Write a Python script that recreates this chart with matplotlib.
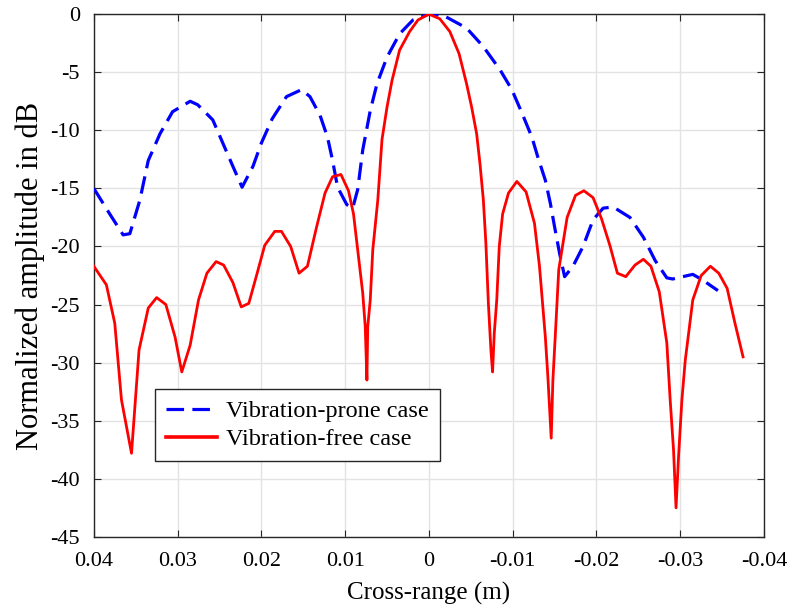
import numpy as np
import matplotlib.pyplot as plt

plt.rcParams['font.family'] = ['Liberation Serif', 'DejaVu Serif']
plt.rcParams['axes.unicode_minus'] = False

# ── Data ─────────────────────────────────────────────────────────────────────
free_x = [0.0400, 0.0385, 0.0375, 0.0367, 0.0355, 0.0346, 0.0335, 0.0325,
          0.0314, 0.0303, 0.0295, 0.0285, 0.0275, 0.0265, 0.0254, 0.0245,
          0.0234, 0.0224, 0.0215, 0.0205, 0.0196, 0.0184, 0.0176, 0.0165,
          0.0155, 0.0145, 0.0134, 0.0124, 0.0115, 0.0105, 0.0096, 0.0090,
          0.0085, 0.0079, 0.0076, 0.0074, 0.0073, 0.0070, 0.0067, 0.0061,
          0.0056, 0.0050, 0.0044, 0.0035, 0.0023, 0.0013, 0.0000,
          -0.0013, -0.0025, -0.0036, -0.0045, -0.0051, -0.0057, -0.0061,
          -0.0065, -0.0068, -0.0071, -0.0074, -0.0076, -0.0078, -0.0081,
          -0.0084, -0.0088, -0.0095, -0.0105, -0.0116, -0.0126, -0.0132,
          -0.0139, -0.0142, -0.0146, -0.0148, -0.0151, -0.0155, -0.0165,
          -0.0175, -0.0185, -0.0196, -0.0206, -0.0216, -0.0225, -0.0235,
          -0.0246, -0.0256, -0.0265, -0.0275, -0.0284, -0.0288, -0.0292,
          -0.0295, -0.0298, -0.0302, -0.0306, -0.0315, -0.0325, -0.0336,
          -0.0346, -0.0356, -0.0365, -0.0375]
free_db = [-21.7, -23.3, -26.6, -33.2, -37.8, -28.9, -25.3, -24.4,
           -25.0, -27.8, -30.8, -28.5, -24.6, -22.3, -21.3, -21.6,
           -23.1, -25.2, -24.9, -22.3, -19.9, -18.7, -18.7, -20.0,
           -22.3, -21.7, -18.3, -15.4, -14.0, -13.8, -15.2, -17.2,
           -20.3, -24.0, -26.9, -31.5, -26.9, -24.6, -20.3, -16.0,
           -10.8, -8.0, -5.7, -3.1, -1.5, -0.5, 0.0,
           -0.4, -1.5, -3.4, -6.0, -8.0, -10.3, -12.9,
           -16.0, -19.7, -24.9, -28.9, -30.8, -27.5, -24.6,
           -20.0, -17.2, -15.4, -14.4, -15.3, -18.0, -21.7,
           -27.8, -31.2, -36.5, -31.5, -27.5, -22.0, -17.5,
           -15.6, -15.2, -15.8, -17.6, -19.9, -22.3, -22.6,
           -21.6, -21.1, -21.7, -23.9, -28.3, -33.2, -37.5,
           -42.5, -38.1, -33.2, -29.8, -24.6, -22.5, -21.7,
           -22.3, -23.6, -26.5, -29.5]

prone_x = [0.0400, 0.0381, 0.0365, 0.0357, 0.0345, 0.0335, 0.0321, 0.0306,
           0.0285, 0.0276, 0.0258, 0.0246, 0.0234, 0.0223, 0.0210, 0.0200,
           0.0187, 0.0170, 0.0152, 0.0142, 0.0130, 0.0121, 0.0115, 0.0109,
           0.0098, 0.0091, 0.0085, 0.0079, 0.0070, 0.0062, 0.0050, 0.0035,
           0.0019, 0.0000, -0.0017, -0.0045, -0.0065, -0.0085, -0.0099,
           -0.0111, -0.0123, -0.0130, -0.0139, -0.0145, -0.0150, -0.0156,
           -0.0162, -0.0172, -0.0184, -0.0196, -0.0208, -0.0220, -0.0240,
           -0.0256, -0.0270, -0.0284, -0.0291, -0.0303, -0.0315, -0.0327,
           -0.0345]
prone_db = [-15.0, -17.2, -19.0, -18.9, -16.0, -12.6, -10.3, -8.4,
            -7.5, -7.8, -9.1, -11.1, -13.1, -14.9, -13.1, -11.1,
            -9.0, -7.1, -6.5, -7.1, -8.7, -10.6, -12.6, -14.9,
            -16.4, -16.7, -15.1, -11.7, -8.3, -6.0, -3.7, -1.7,
            -0.5, 0.0, -0.1, -1.2, -2.8, -4.8, -6.5,
            -8.5, -10.6, -12.3, -14.3, -16.3, -18.3, -20.6,
            -22.6, -21.7, -20.0, -17.7, -16.7, -16.6, -17.5,
            -19.2, -21.2, -22.7, -22.8, -22.6, -22.4, -22.9,
            -23.8]

x_ticks = [0.04, 0.03, 0.02, 0.01, 0.0, -0.01, -0.02, -0.03, -0.04]
x_tick_labels = ['0.04', '0.03', '0.02', '0.01', '0', '-0.01', '-0.02', '-0.03', '-0.04']
y_ticks = [0, -5, -10, -15, -20, -25, -30, -35, -40, -45]

# ── Plot ─────────────────────────────────────────────────────────────────────
fig = plt.figure(figsize=(7.95, 6.15), dpi=100)
ax = fig.add_axes([0.118, 0.127, 0.843, 0.850])

ax.plot(prone_x, prone_db, color='#0000ff', lw=2.3, ls=(0, (5.5, 2.6)),
        label='Vibration-prone case', zorder=3)
ax.plot(free_x, free_db, color='#ff0000', lw=2.0,
        label='Vibration-free case', zorder=4)

ax.set_xlim(0.04, -0.04)
ax.set_ylim(-45, 0)
ax.set_xticks(x_ticks)
ax.set_xticklabels(x_tick_labels)
ax.set_yticks(y_ticks)
ax.set_yticklabels([str(v) for v in y_ticks])

ax.grid(True, color='#e3e3e3', lw=1.0)
ax.set_axisbelow(True)
ax.tick_params(direction='in', length=5, width=0.8, colors='#262626',
               labelcolor='black', labelsize=16, top=True, right=True)
ax.tick_params(axis='x', pad=11)
ax.tick_params(axis='y', pad=10)
for s in ax.spines.values():
    s.set_color('#262626')
    s.set_linewidth(1.0)

ax.set_xlabel('Cross-range (m)', fontsize=18, labelpad=8)
ax.set_ylabel('Normalized amplitude in dB', fontsize=22, labelpad=4)

leg = ax.legend(loc='lower left', bbox_to_anchor=(0.091, 0.145), fontsize=17.5,
                handlelength=2.1, handletextpad=0.4, borderpad=0.45,
                labelspacing=0.25, borderaxespad=0, fancybox=False,
                framealpha=1, edgecolor='#262626')
leg.get_frame().set_linewidth(1.0)
leg.get_lines()[1].set_linewidth(2.6)

plt.savefig('out.png', dpi=100)
